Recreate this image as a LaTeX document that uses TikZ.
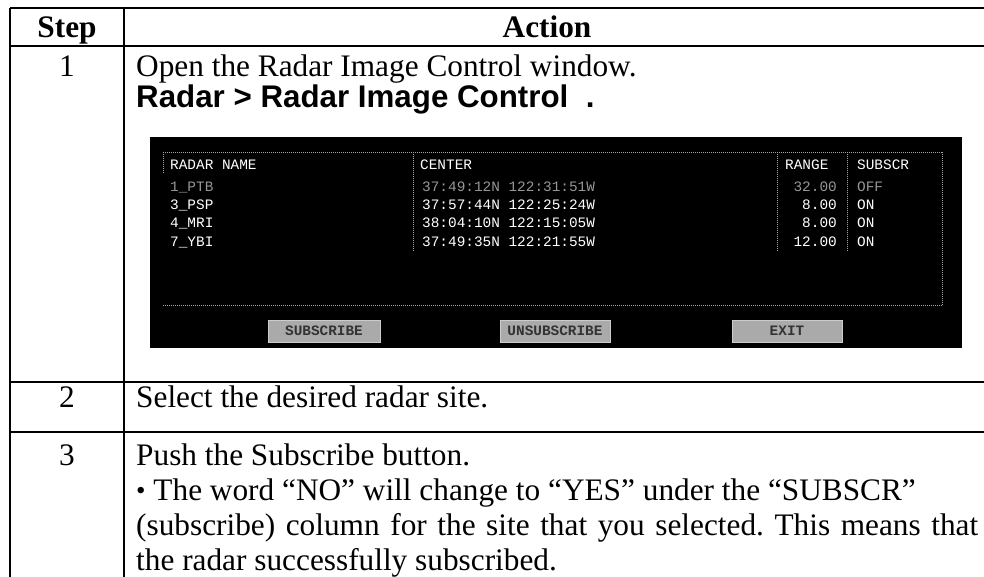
\documentclass[tikz,border=0pt]{standalone}
\usepackage{fontspec}
\setmainfont{Liberation Serif}
\newfontfamily\arialfont{Liberation Sans}
\newfontfamily\termfont{Liberation Mono}
\frenchspacing
\definecolor{termgrey}{RGB}{165,165,165}
\definecolor{dimtext}{RGB}{150,150,150}
\definecolor{btnfill}{RGB}{170,170,170}
\tikzset{
  rule/.style={line width=1.8pt, black},
  body/.style={inner sep=0pt, font=\fontsize{31.3}{35}\selectfont},
  headtext/.style={body, font=\fontsize{31.3}{35}\selectfont\bfseries},
  menutext/.style={inner sep=0pt, font=\fontsize{31.3}{35}\selectfont\arialfont\bfseries},
  term/.style={inner sep=0pt, text=white, font=\fontsize{14.4}{16}\selectfont\termfont},
  termdim/.style={term, text=dimtext},
  frameline/.style={termgrey, line width=0.7pt, dash pattern=on 1pt off 1pt},
  button/.style={draw=white!80!black, line width=0.6pt, fill=btnfill, inner sep=0pt,
                 minimum height=22pt, font=\fontsize{14.4}{16}\selectfont\termfont\bfseries, text=black!80},
}
\begin{document}
\begin{tikzpicture}[x=1pt, y=-1pt]
\useasboundingbox (0,0) rectangle (984,577);

% table rules
\draw[rule] (10,8) -- (984,8);
\draw[rule] (10,46) -- (984,46);
\draw[rule] (10,382) -- (984,382);
\draw[rule] (10,432) -- (984,432);
\draw[rule] (10,8) -- (10,577);
\draw[rule] (124,8) -- (124,577);

% header row
\node[headtext, anchor=base] (hstep) at (67,38) {Step};
\node[headtext, anchor=base] (hact) at (547,38) {Action};

% step 1
\node[body, anchor=base] (n1) at (67,77) {1};
\node[body, anchor=base west] (t1) at (136,77) {Open the Radar Image Control window.};
\node[menutext, anchor=base west] (m1) at (136,108) {Radar > Radar Image Control\ \ .};

% screenshot of the Radar Image Control window
\fill[black] (150,137) rectangle (962,348);
\draw[frameline] (163,152) -- (942,152);
\draw[frameline] (942,152) -- (942,305);
\draw[frameline] (163,305) -- (942,305);
\draw[frameline] (163,152) -- (163,174);
\draw[frameline] (413,152) -- (413,252);
\draw[frameline] (777,152) -- (777,252);
\draw[frameline] (847,152) -- (847,252);

\node[term, anchor=base west] (cname) at (170,170) {RADAR NAME};
\node[term, anchor=base west] (ccenter) at (420,170) {CENTER};
\node[term, anchor=base west] (crange) at (785,170) {RANGE};
\node[term, anchor=base west] (csub) at (857,170) {SUBSCR};

\node[termdim, anchor=base west] (r1a) at (170,192) {1\_PTB};
\node[termdim, anchor=base west] (r1b) at (422,192) {37:49:12N 122:31:51W};
\node[termdim, anchor=base east] (r1c) at (837,192) {32.00};
\node[termdim, anchor=base west] (r1d) at (857,192) {OFF};

\node[term, anchor=base west] (r2a) at (170,210) {3\_PSP};
\node[term, anchor=base west] (r2b) at (422,210) {37:57:44N 122:25:24W};
\node[term, anchor=base east] (r2c) at (837,210) {8.00};
\node[term, anchor=base west] (r2d) at (857,210) {ON};

\node[term, anchor=base west] (r3a) at (170,228) {4\_MRI};
\node[term, anchor=base west] (r3b) at (422,228) {38:04:10N 122:15:05W};
\node[term, anchor=base east] (r3c) at (837,228) {8.00};
\node[term, anchor=base west] (r3d) at (857,228) {ON};

\node[term, anchor=base west] (r4a) at (170,247) {7\_YBI};
\node[term, anchor=base west] (r4b) at (422,247) {37:49:35N 122:21:55W};
\node[term, anchor=base east] (r4c) at (837,247) {12.00};
\node[term, anchor=base west] (r4d) at (857,247) {ON};

\node[button, minimum width=112pt] (bsub) at (324,331) {SUBSCRIBE};
\node[button, minimum width=110pt] (bunsub) at (555,331) {UNSUBSCRIBE};
\node[button, minimum width=110pt] (bexit) at (787,331) {EXIT};

% step 2
\node[body, anchor=base] (n2) at (67,407) {2};
\node[body, anchor=base west] (t2) at (136,407) {Select the desired radar site.};

% step 3
\node[body, anchor=base] (n3) at (67,465) {3};
\node[body, anchor=base west] (t3a) at (136,465) {Push the Subscribe button.};
\node[body, anchor=base west] (t3b) at (136,500) {{\fontsize{27}{27}\selectfont\raisebox{1pt}{•}}\ The word “NO” will change to “YES” under the “SUBSCR”};
\node[body, anchor=base west] (t3c) at (136,535) {\makebox[842pt][s]{(subscribe) column for the site that you selected. This means that}};
\node[body, anchor=base west] (t3d) at (136,570) {the radar successfully subscribed.};
\end{tikzpicture}
\end{document}
